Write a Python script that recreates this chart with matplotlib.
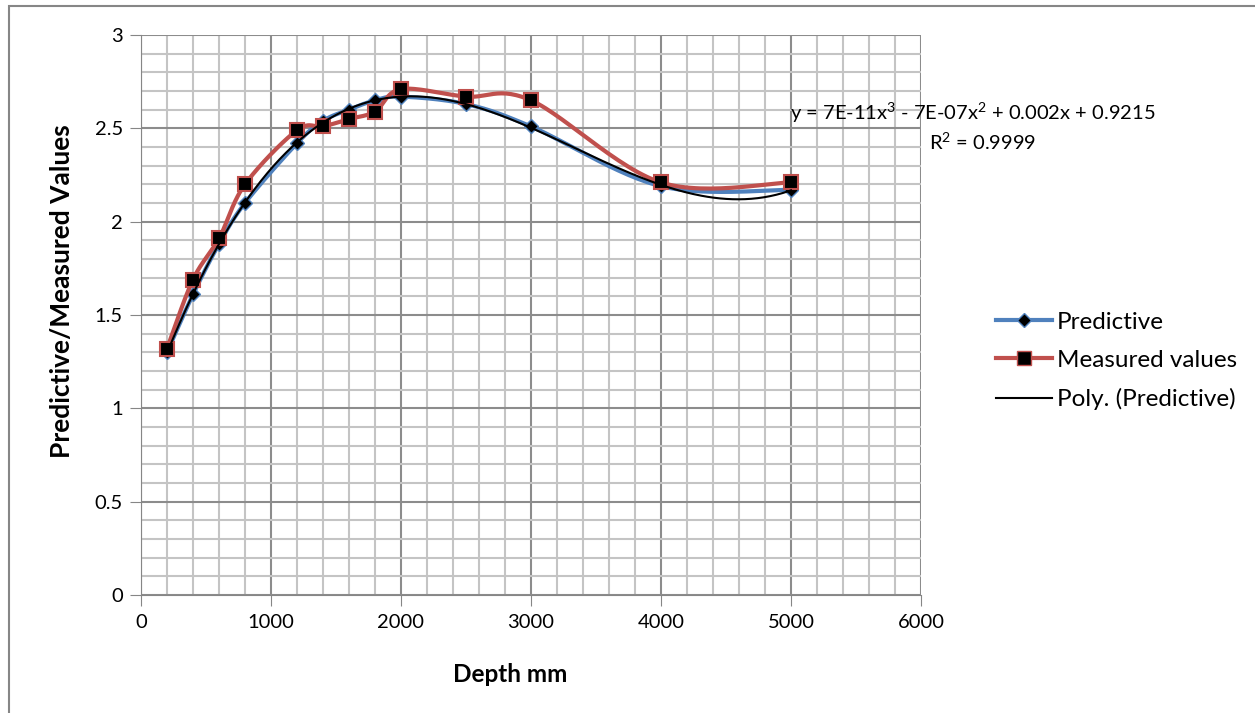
import numpy as np
import matplotlib
matplotlib.use("Agg")
from matplotlib import pyplot as pl
from matplotlib.patches import Rectangle
from matplotlib.ticker import MultipleLocator

pl.rcParams['font.family'] = ['Lato', 'DejaVu Sans']
pl.rcParams['mathtext.fontset'] = 'custom'
pl.rcParams['mathtext.rm'] = 'Lato'

depth = [200, 400, 600, 800, 1200, 1400, 1600, 1800, 2000, 2500, 3000, 4000, 5000]
predictive = [1.30, 1.61, 1.88, 2.10, 2.42, 2.54, 2.60, 2.65, 2.67, 2.63, 2.51, 2.19, 2.17]
measured = [1.32, 1.69, 1.91, 2.20, 2.49, 2.51, 2.55, 2.59, 2.71, 2.67, 2.65, 2.21, 2.21]

eq_text = r"y = 7E-11x$^{\mathrm{3}}$ - 7E-07x$^{\mathrm{2}}$ + 0.002x + 0.9215"
r2_text = r"R$^{\mathrm{2}}$ = 0.9999"


def smooth(x, y, n=30):
    # excel-style smoothed line (catmull-rom bezier)
    x = np.asarray(x, float)
    y = np.asarray(y, float)
    px = np.concatenate([[x[0]], x, [x[-1]]])
    py = np.concatenate([[y[0]], y, [y[-1]]])
    xs, ys = [], []
    t = np.linspace(0, 1, n)
    for i in range(1, len(px) - 2):
        p0 = np.array([px[i], py[i]])
        p3 = np.array([px[i + 1], py[i + 1]])
        p1 = p0 + (np.array([px[i + 1], py[i + 1]]) - np.array([px[i - 1], py[i - 1]])) / 6
        p2 = p3 - (np.array([px[i + 2], py[i + 2]]) - np.array([px[i], py[i]])) / 6
        b = ((1 - t) ** 3)[:, None] * p0 + (3 * (1 - t) ** 2 * t)[:, None] * p1 \
            + (3 * (1 - t) * t ** 2)[:, None] * p2 + (t ** 3)[:, None] * p3
        xs.extend(b[:, 0])
        ys.extend(b[:, 1])
    return np.array(xs), np.array(ys)


fig = pl.figure(figsize=(12.55, 7.13), dpi=100)
ax = fig.add_axes([141 / 1255, 1 - 595 / 713, 780 / 1255, 560 / 713])

fig.patches.append(Rectangle((9 / 1255, -0.1), 1.2, 1 - 6 / 713 + 0.1,
                             transform=fig.transFigure, fill=False,
                             edgecolor='#868686', linewidth=1.5))

blue = '#4F81BD'
red = '#C0504D'

sx, sy = smooth(depth, predictive)
ax.plot(sx, sy, color=blue, lw=3, zorder=3)
ax.plot(depth, predictive, ls='none', marker='D', ms=7, mfc='black', mec=blue, mew=1, zorder=4)
sx, sy = smooth(depth, measured)
ax.plot(sx, sy, color=red, lw=3, zorder=5)
ax.plot(depth, measured, ls='none', marker='s', ms=10, mfc='black', mec=red, mew=1.5, zorder=6)

coef = np.polyfit(depth, predictive, 3)
xt = np.linspace(depth[0], depth[-1], 300)
ax.plot(xt, np.polyval(coef, xt), color='black', lw=1.5, zorder=7)

# legend handles
ax.plot([], [], color=blue, lw=3, marker='D', ms=7, mfc='black', mec=blue, label='Predictive')
ax.plot([], [], color=red, lw=3, marker='s', ms=10, mfc='black', mec=red, label='Measured values')
ax.plot([], [], color='black', lw=1.5, label='Poly. (Predictive)')

ax.set_xlim(0, 6000)
ax.set_ylim(0, 3)
ax.xaxis.set_major_locator(MultipleLocator(1000))
ax.xaxis.set_minor_locator(MultipleLocator(200))
ax.yaxis.set_major_locator(MultipleLocator(0.5))
ax.yaxis.set_minor_locator(MultipleLocator(0.1))
ax.set_yticks([0, 0.5, 1, 1.5, 2, 2.5, 3])
ax.set_yticklabels(['0', '0.5', '1', '1.5', '2', '2.5', '3'])
ax.grid(which='major', color='#8c8c8c', lw=1.5)
ax.grid(which='minor', color='#c4c4c4', lw=1.5)
ax.set_axisbelow(True)
for s in ax.spines.values():
    s.set_visible(False)
ax.spines['left'].set_visible(True)
ax.spines['bottom'].set_visible(True)
ax.spines['left'].set_color('#868686')
ax.spines['bottom'].set_color('#868686')
ax.tick_params(which='major', length=8, color='#868686', labelsize=14.5)
ax.tick_params(axis='y', pad=5)
ax.tick_params(axis='x', pad=6)
ax.tick_params(which='minor', length=0)

fig.text(510 / 1255, 1 - 675 / 713, 'Depth mm', ha='center', va='center',
         fontsize=17.5, fontweight='bold')
fig.text(62 / 1255, 1 - 291 / 713, 'Predictive/Measured Values', ha='center', va='center',
         rotation=90, fontsize=19, fontweight='bold')
fig.text(973 / 1255, 1 - 113 / 713, eq_text, ha='center', va='center', fontsize=14.5)
fig.text(983 / 1255, 1 - 142 / 713, r2_text, ha='center', va='center', fontsize=14.5)

fig.legend(loc='center left', bbox_to_anchor=(974 / 1255, 1 - 361 / 713),
           frameon=False, fontsize=17.5, handlelength=2.3, labelspacing=0.7,
           handletextpad=0.2)

fig.savefig('out.png', dpi=100)
